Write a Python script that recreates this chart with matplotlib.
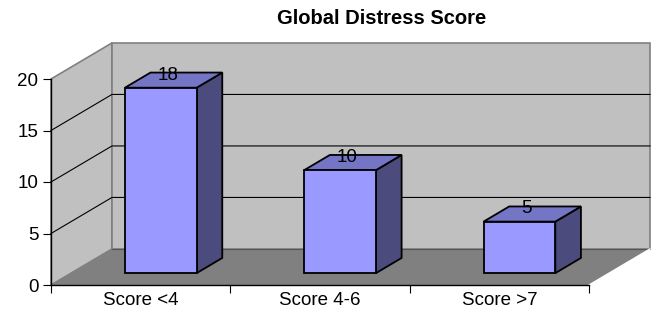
import matplotlib
matplotlib.use("Agg")
import matplotlib.pyplot as plt
from matplotlib.patches import Polygon

plt.rcParams['font.family'] = ['Liberation Sans', 'DejaVu Sans']

# data
categories = ['Score <4', 'Score 4-6', 'Score >7']
values = [18, 10, 5]
yticks = [0, 5, 10, 15, 20]
title = 'Global Distress Score'

# oblique 3d look (depth shift in data units)
DX, DY = 0.34, 3.5
YMAX = 20
NCAT = len(categories)
BAR_W = 0.4
D0, D1 = 0.33, 0.75

wall_c = '#C0C0C0'
floor_c = '#808080'
front_c = '#9999FF'
top_c = '#7575C6'
side_c = '#4B4B7E'


def proj(x, v, d):
    return (x + d * DX, v + d * DY)


def face(ax, pts, fc, ec='black', lw=1.0, z=1):
    p = Polygon([proj(*q) for q in pts], closed=True, facecolor=fc,
                edgecolor=ec, linewidth=lw, clip_on=False, zorder=z)
    ax.add_patch(p)


fig = plt.figure(figsize=(6.51, 3.15), dpi=100)
ax = fig.add_axes([51/651, 30/315, 538/651, 206/315])
ax.set_xlim(0, NCAT)
ax.set_ylim(0, YMAX)

# walls and floor
face(ax, [(0, 0, 0), (0, 0, 1), (0, YMAX, 1), (0, YMAX, 0)], wall_c, ec='#808080', lw=1.2, z=0.5)
face(ax, [(0, 0, 1), (NCAT, 0, 1), (NCAT, YMAX, 1), (0, YMAX, 1)], wall_c, ec='#808080', lw=1.2, z=0.5)
face(ax, [(0, 0, 0), (NCAT, 0, 0), (NCAT, 0, 1), (0, 0, 1)], floor_c, ec='none', z=0.6)
xs, ys = zip(proj(0, 0, 1), proj(NCAT, 0, 1))
ax.plot(xs, ys, color='#555555', lw=0.8, clip_on=False, zorder=0.7)
xs, ys = zip(proj(NCAT, 0, 0), proj(NCAT, 0, 1))
ax.plot(xs, ys, color='white', lw=1.0, clip_on=False, zorder=0.7)

# gridlines on side + back wall
for v in yticks[1:-1]:
    pts = [proj(0, v, 0), proj(0, v, 1), proj(NCAT, v, 1)]
    xs, ys = zip(*pts)
    ax.plot(xs, ys, color='black', lw=0.8, clip_on=False, zorder=0.8)

# bars
for i, v in enumerate(values):
    x0 = i + 0.5 - BAR_W / 2
    x1 = i + 0.5 + BAR_W / 2
    face(ax, [(x1, 0, D0), (x1, 0, D1), (x1, v, D1), (x1, v, D0)], side_c, lw=1.3, z=2)
    face(ax, [(x0, v, D0), (x1, v, D0), (x1, v, D1), (x0, v, D1)], top_c, lw=1.3, z=2)
    face(ax, [(x0, 0, D0), (x1, 0, D0), (x1, v, D0), (x0, v, D0)], front_c, lw=1.3, z=2)
    lx, ly = proj(i + 0.5, v, 0.5)
    ax.annotate(str(v), (lx, ly), xytext=(-3, -2), textcoords='offset pixels',
                ha='center', va='bottom', fontsize=13.5, zorder=3,
                annotation_clip=False)

# axes
for s in ['top', 'right']:
    ax.spines[s].set_visible(False)
ax.spines['left'].set_linewidth(1.0)
ax.spines['bottom'].set_linewidth(1.0)
ax.spines['left'].set_zorder(1.5)
ax.spines['bottom'].set_zorder(1.5)
ax.set_yticks(yticks)
ax.tick_params(axis='y', direction='out', length=6, labelsize=13.5, pad=3)
ax.set_xticks(range(NCAT + 1))
ax.set_xticklabels([])
ax.set_xticks([i + 0.5 for i in range(NCAT)], minor=True)
ax.set_xticklabels(categories, minor=True, fontsize=13.5)
ax.tick_params(axis='x', which='major', direction='out', length=6)
ax.tick_params(axis='x', which='minor', length=0, pad=5)

fig.text(382/651, 1 - 19/315, title, ha='center', va='center',
         fontsize=14.5, fontweight='bold')

fig.savefig('out.png', dpi=100)
